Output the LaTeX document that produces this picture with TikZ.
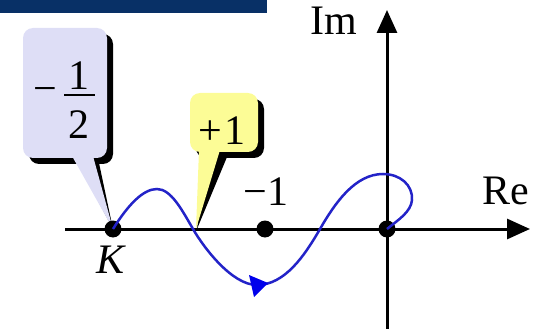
\documentclass[tikz,border=0pt]{standalone}
\usepackage{fontspec}
\setmainfont{Liberation Serif}
\usetikzlibrary{arrows.meta}
\definecolor{navy}{RGB}{8,48,102}
\definecolor{lav}{RGB}{222,222,246}
\definecolor{pyel}{RGB}{252,252,150}
\definecolor{cblue}{RGB}{35,35,200}
\definecolor{ablue}{RGB}{0,0,235}
\begin{document}
\begin{tikzpicture}[x=1pt,y=-1pt,
  lbl/.style={inner sep=0pt, font=\fontsize{42}{46}\selectfont},
  axis/.style={line width=3pt, -{Triangle[length=23pt,width=20pt]}},
  dotpt/.style={fill=black},
  callshadow/.style={fill=black},
  curve/.style={cblue, line width=2.5pt}]
\useasboundingbox (0,0) rectangle (539,329);
% top bar
\fill[navy] (0,0) rectangle (267,13);
% lavender callout
\fill[callshadow, rounded corners=10pt] (29,34) rectangle (113,164);
\fill[callshadow] (78,163) -- (99,163) -- (113,229) -- cycle;
\fill[lav, rounded corners=10pt] (23,28) rectangle (107,158);
\fill[lav] (72,156) -- (93,156) -- (113,229) -- cycle;
\node[lbl] (minus) at (45,95) {−};
\node[lbl] (one) at (79,76) {1};
\node[lbl] (two) at (79,125) {2};
\draw[line width=2pt] (64,95) -- (95,95);
% yellow callout
\fill[callshadow, rounded corners=10pt] (196,99) rectangle (264,158);
\fill[callshadow] (206,157) -- (227,157) -- (197,229) -- cycle;
\fill[pyel, rounded corners=10pt] (190,93) rectangle (258,152);
\fill[pyel] (199,150) -- (220,150) -- (196,229) -- cycle;
\node[lbl] (plusone) at (222,131) {+\hspace{3pt}1};
% axes
\coordinate (xs) at (65,229);
\coordinate (xe) at (530,229);
\coordinate (ys) at (387,329);
\coordinate (ye) at (387,10);
\draw[axis] (xs) -- (xe);
\draw[axis] (ys) -- (ye);
\node[lbl] (im) at (334,21) {Im};
\node[lbl] (re) at (506,191) {Re};
% points
\fill[dotpt] (113,229) circle (8.5pt);
\fill[dotpt] (265,229) circle (8.5pt);
\fill[dotpt] (387,229) circle (8.5pt);
\node[lbl] (K) at (111,260) {\itshape K};
\node[lbl] (m1) at (266,192) {−1};
% curve
\draw[curve] (113,229) .. controls (128,205) and (143,189) .. (157,189)
  .. controls (171,189) and (182,210) .. (193,229)
  .. controls (204,248) and (232,285) .. (257,285)
  .. controls (285,285) and (305,255) .. (320,229)
  .. controls (335,203) and (355,174) .. (383,174)
  .. controls (400,174) and (413,185) .. (412,200)
  .. controls (411,212) and (398,220) .. (387,229);
\fill[ablue] (249,275) -- (268,283) -- (254,297) -- cycle;
\end{tikzpicture}
\end{document}
